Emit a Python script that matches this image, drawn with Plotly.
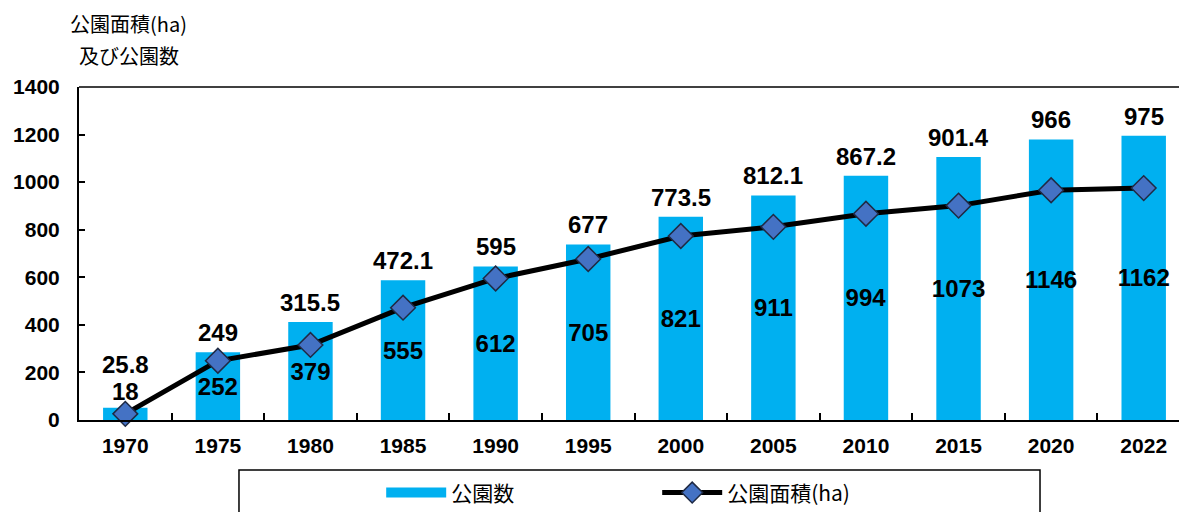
import plotly.graph_objects as go

# Data
years = ["1970", "1975", "1980", "1985", "1990", "1995", "2000", "2005", "2010", "2015", "2020", "2022"]
park_count = [18, 252, 379, 555, 612, 705, 821, 911, 994, 1073, 1146, 1162]
park_area = [25.8, 249, 315.5, 472.1, 595, 677, 773.5, 812.1, 867.2, 901.4, 966, 975]
y_ticks = [0, 200, 400, 600, 800, 1000, 1200, 1400]

# In the source chart every bar is drawn about 33 units taller than its label says
BAR_SHIFT = 33

BAR_COLOR = "#00B0F0"
NUM_FONT = "Liberation Sans, Arial, sans-serif"
JP_FONT = "Noto Sans CJK JP, sans-serif"

fig = go.Figure()

# Bars (park count)
fig.add_trace(
    go.Bar(
        x=years,
        y=[c + BAR_SHIFT for c in park_count],
        name="公園数",
        showlegend=False,
        marker=dict(color=BAR_COLOR, line=dict(width=0)),
        text=[str(v) for v in park_count],
        textposition=["outside"] + ["inside"] * (len(years) - 1),
        insidetextanchor="middle",
        constraintext="none",
        textangle=0,
        cliponaxis=False,
        textfont=dict(family=NUM_FONT, size=24, color="black", weight="bold"),
        hoverinfo="skip",
    )
)

# Legend entry for the bars: a wide flat swatch like the original
fig.add_trace(
    go.Scatter(
        x=[None],
        y=[None],
        name="公園数",
        mode="lines",
        line=dict(color=BAR_COLOR, width=20),
    )
)

# Line (park area)
fig.add_trace(
    go.Scatter(
        x=years,
        y=park_area,
        name="公園面積(ha)",
        mode="lines+markers",
        line=dict(color="black", width=5),
        marker=dict(symbol="diamond", size=19, color="#4472C4", line=dict(color="#1F2A44", width=1.5)),
        cliponaxis=False,
    )
)

# Area labels sit above the bars (x given as category index)
for i, (cnt, area) in enumerate(zip(park_count, park_area)):
    fig.add_annotation(
        x=i,
        y=cnt,
        xref="x",
        yref="y",
        text=f"{area:g}",
        showarrow=False,
        yanchor="bottom",
        yshift=36 if i == 0 else 12,
        font=dict(family=NUM_FONT, size=24, color="black", weight="bold"),
    )

# Axis title in the top-left corner, two lines
fig.add_annotation(
    x=0.045, y=1.19, xref="paper", yref="paper",
    xanchor="center", yanchor="middle",
    text="公園面積(ha)",
    showarrow=False,
    font=dict(family=JP_FONT, size=20, color="black"),
)
fig.add_annotation(
    x=0.045, y=1.095, xref="paper", yref="paper",
    xanchor="center", yanchor="middle",
    text="及び公園数",
    showarrow=False,
    font=dict(family=JP_FONT, size=20, color="black"),
)

# Legend frame
fig.add_shape(
    type="rect", xref="paper", yref="paper",
    x0=0.144, x1=0.865, y0=-0.32, y1=-0.150,
    line=dict(color="black", width=1.5),
)

# Top border of plot area
fig.add_shape(
    type="line", xref="paper", yref="paper",
    x0=0, x1=1, y0=1, y1=1,
    line=dict(color="black", width=1.5),
)

fig.update_layout(
    width=1187,
    height=512,
    # page body adds an 8px offset, compensated here
    margin=dict(l=69, r=5, t=79, b=100),
    plot_bgcolor="white",
    paper_bgcolor="white",
    bargap=0.52,
    showlegend=True,
    legend=dict(
        orientation="h",
        x=0.272, y=-0.219, xanchor="left", yanchor="middle",
        font=dict(family=JP_FONT, size=21, color="black"),
        entrywidth=201,
        itemwidth=60,
        bgcolor="rgba(0,0,0,0)",
    ),
    xaxis=dict(
        type="category",
        range=[-0.5, len(years) - 0.5],
        showline=True,
        linecolor="black",
        linewidth=2,
        ticks="inside",
        tickson="boundaries",
        ticklen=7,
        tickwidth=1.5,
        tickcolor="black",
        ticklabelstandoff=6,
        tickangle=0,
        tickfont=dict(family=NUM_FONT, size=21, color="black", weight="bold"),
        showgrid=False,
    ),
    yaxis=dict(
        range=[0, 1400],
        tickvals=y_ticks,
        showline=True,
        linecolor="black",
        linewidth=2,
        ticks="inside",
        ticklen=6,
        tickwidth=1.5,
        tickcolor="black",
        ticklabelstandoff=13,
        tickfont=dict(family=NUM_FONT, size=21, color="black", weight="bold"),
        showgrid=False,
        zeroline=False,
    ),
)

fig.write_html("out.html")
